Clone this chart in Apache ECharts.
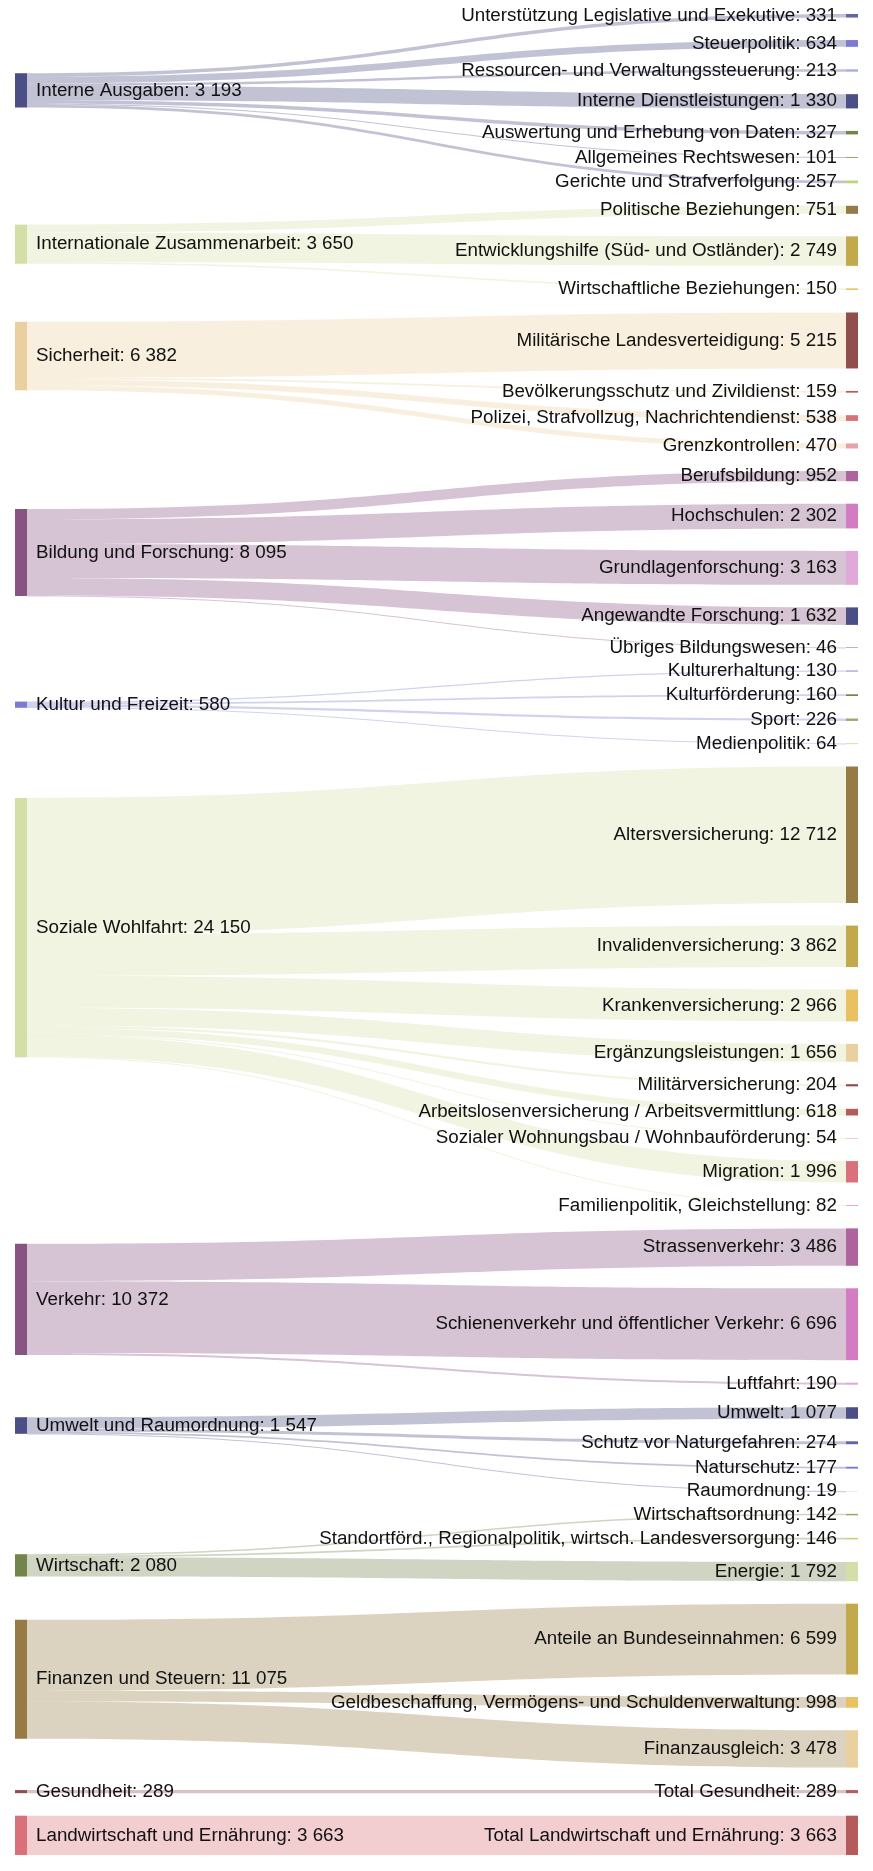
<!DOCTYPE html>
<html>
<head>
<meta charset="utf-8">
<script src="https://cdn.jsdelivr.net/npm/echarts@6/dist/echarts.min.js"></script>
<style>
html,body{margin:0;padding:0;background:#ffffff;}
#chart{width:873px;height:1871px;}
</style>
</head>
<body>
<div id="chart"></div>
<script>
// ---------------- DATA ----------------
const categories = [
  'Interne Ausgaben',
  'Internationale Zusammenarbeit',
  'Sicherheit',
  'Bildung und Forschung',
  'Kultur und Freizeit',
  'Soziale Wohlfahrt',
  'Verkehr',
  'Umwelt und Raumordnung',
  'Wirtschaft',
  'Finanzen und Steuern',
  'Gesundheit',
  'Landwirtschaft und Ernährung'
];

const subcategoryNames = [
  'Unterstützung Legislative und Exekutive',
  'Steuerpolitik',
  'Ressourcen- und Verwaltungssteuerung',
  'Interne Dienstleistungen',
  'Auswertung und Erhebung von Daten',
  'Allgemeines Rechtswesen',
  'Gerichte und Strafverfolgung',
  'Politische Beziehungen',
  'Entwicklungshilfe (Süd- und Ostländer)',
  'Wirtschaftliche Beziehungen',
  'Militärische Landesverteidigung',
  'Bevölkerungsschutz und Zivildienst',
  'Polizei, Strafvollzug, Nachrichtendienst',
  'Grenzkontrollen',
  'Berufsbildung',
  'Hochschulen',
  'Grundlagenforschung',
  'Angewandte Forschung',
  'Übriges Bildungswesen',
  'Kulturerhaltung',
  'Kulturförderung',
  'Sport',
  'Medienpolitik',
  'Altersversicherung',
  'Invalidenversicherung',
  'Krankenversicherung',
  'Ergänzungsleistungen',
  'Militärversicherung',
  'Arbeitslosenversicherung / Arbeitsvermittlung',
  'Sozialer Wohnungsbau / Wohnbauförderung',
  'Migration',
  'Familienpolitik, Gleichstellung',
  'Strassenverkehr',
  'Schienenverkehr und öffentlicher Verkehr',
  'Luftfahrt',
  'Umwelt',
  'Schutz vor Naturgefahren',
  'Naturschutz',
  'Raumordnung',
  'Wirtschaftsordnung',
  'Standortförd., Regionalpolitik, wirtsch. Landesversorgung',
  'Energie',
  'Anteile an Bundeseinnahmen',
  'Geldbeschaffung, Vermögens- und Schuldenverwaltung',
  'Finanzausgleich',
  'Total Gesundheit',
  'Total Landwirtschaft und Ernährung'
];

const subcategoryValues = [
  331, 634, 213, 1330, 327, 101, 257,
  751, 2749, 150,
  5215, 159, 538, 470,
  952, 2302, 3163, 1632, 46,
  130, 160, 226, 64,
  12712, 3862, 2966, 1656, 204, 618, 54, 1996, 82,
  3486, 6696, 190,
  1077, 274, 177, 19,
  142, 146, 1792,
  6599, 998, 3478,
  289,
  3663
];

// index into categories for each subcategory
const subcategoryParent = [
  0, 0, 0, 0, 0, 0, 0,
  1, 1, 1,
  2, 2, 2, 2,
  3, 3, 3, 3, 3,
  4, 4, 4, 4,
  5, 5, 5, 5, 5, 5, 5, 5, 5,
  6, 6, 6,
  7, 7, 7, 7,
  8, 8, 8,
  9, 9, 9,
  10,
  11
];

// ---------------- STYLE ----------------
const palette = ['#393b79','#5254a3','#6b6ecf','#9c9ede','#637939','#8ca252','#b5cf6b','#cedb9c',
                 '#8c6d31','#bd9e39','#e7ba52','#e7cb94','#843c39','#ad494a','#d6616b','#e7969c',
                 '#7b4173','#a55194','#ce6dbd','#de9ed6'];
const categoryColorIndex = [0, 7, 11, 16, 2, 7, 16, 0, 4, 8, 12, 14];
const subcategoryColorIndex = [
  1, 2, 3, 0, 4, 5, 6,
  8, 9, 10,
  12, 13, 14, 15,
  17, 18, 19, 0, 1,
  3, 4, 5, 6,
  8, 9, 10, 11, 12, 13, 15, 14, 15,
  17, 18, 19,
  0, 1, 2, 3,
  5, 6, 7,
  9, 10, 11,
  13,
  13
];

const FONT = '"Liberation Sans", Arial, Helvetica, sans-serif';
const LAYOUT = { left: 15, right: 15, top: 14, bottom: 16, nodeWidth: 12, nodeGap: 22.5 };

function fmt(v) {
  return String(Math.round(v)).replace(/\B(?=(\d{3})+(?!\d))/g, '\u00a0');
}

const categoryTotals = categories.map((c, i) =>
  subcategoryValues.reduce((s, v, j) => s + (subcategoryParent[j] === i ? v : 0), 0));

function buildOption(categoryLocalY) {
  const nodes = [];
  categories.forEach((name, i) => {
    const n = {
      name: name,
      value: categoryTotals[i],
      itemStyle: { color: palette[categoryColorIndex[i]] },
      label: { position: 'right' }
    };
    if (categoryLocalY && categoryLocalY[i] != null) n.localY = categoryLocalY[i];
    nodes.push(n);
  });
  subcategoryNames.forEach((name, j) => {
    nodes.push({
      name: name,
      value: subcategoryValues[j],
      itemStyle: { color: palette[subcategoryColorIndex[j]] },
      label: { position: 'left' }
    });
  });
  const links = subcategoryNames.map((name, j) => ({
    source: categories[subcategoryParent[j]],
    target: name,
    value: subcategoryValues[j]
  }));
  return {
    animation: false,
    backgroundColor: '#ffffff',
    series: [{
      type: 'sankey',
      left: LAYOUT.left,
      right: LAYOUT.right,
      top: LAYOUT.top,
      bottom: LAYOUT.bottom,
      nodeWidth: LAYOUT.nodeWidth,
      nodeGap: LAYOUT.nodeGap,
      layoutIterations: 0,
      draggable: false,
      emphasis: { disabled: true },
      itemStyle: { borderWidth: 0, opacity: 0.9 },
      lineStyle: { color: 'source', opacity: 0.31, curveness: 0.5 },
      label: {
        show: true,
        distance: 9,
        color: '#111111',
        fontFamily: FONT,
        fontSize: 18.8,
        formatter: p => p.name + ': ' + fmt(p.value)
      },
      data: nodes,
      links: links
    }]
  };
}

const chart = echarts.init(document.getElementById('chart'), null, { renderer: 'canvas' });
chart.setOption(buildOption(null));

// Place each category node at the value-weighted centre of its subcategory nodes,
// using the node positions computed by the library's own sankey layout.
let localY = null;
try {
  const series = chart.getModel().getSeriesByIndex(0);
  const graph = series.getGraph();
  const H = series.layoutInfo.height;
  const lay = [];
  graph.eachNode(node => { lay[node.dataIndex] = node.getLayout(); });
  const nc = categories.length;
  localY = categories.map((c, i) => {
    let sw = 0, sv = 0;
    subcategoryValues.forEach((v, j) => {
      if (subcategoryParent[j] !== i) return;
      const L = lay[nc + j];
      sw += v * (L.y + L.dy / 2);
      sv += v;
    });
    const centre = sw / sv;
    return (centre - lay[i].dy / 2) / H;
  });
} catch (e) {
  // fallback: same computation as the library's packed column
  const H = 1871 - LAYOUT.top - LAYOUT.bottom;
  const total = subcategoryValues.reduce((a, b) => a + b, 0);
  const ky = (H - (subcategoryValues.length - 1) * LAYOUT.nodeGap) / total;
  const ys = [];
  let y = 0;
  subcategoryValues.forEach(v => { ys.push(y); y += v * ky + LAYOUT.nodeGap; });
  localY = categories.map((c, i) => {
    let sw = 0, sv = 0;
    subcategoryValues.forEach((v, j) => {
      if (subcategoryParent[j] !== i) return;
      sw += v * (ys[j] + v * ky / 2); sv += v;
    });
    return (sw / sv - categoryTotals[i] * ky / 2) / H;
  });
}
chart.setOption(buildOption(localY));
</script>
</body>
</html>
